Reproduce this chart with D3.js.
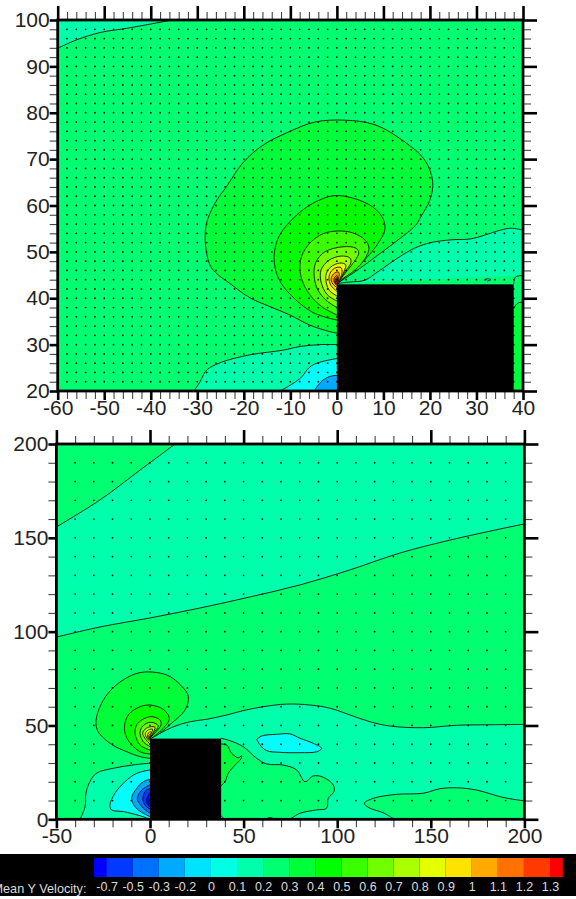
<!DOCTYPE html>
<html>
<head>
<meta charset="utf-8">
<script src="https://cdn.jsdelivr.net/npm/d3@7/dist/d3.min.js"></script>
<style>
  html, body { margin: 0; background: #fff; }
  svg { display: block; }
  text { font-family: "Liberation Sans", Arial, sans-serif; }
</style>
</head>
<body>
<div id="chart"></div>
<script>
// legend
const legendLabels = ["-0.7", "-0.5", "-0.3", "-0.2", "0", "0.1", "0.2", "0.3", "0.4", "0.5", "0.6", "0.7", "0.8", "0.9", "1", "1.1", "1.2", "1.3"];
const levelColors = ["#0000ff", "#0039ff", "#0071ff", "#00aaff", "#00e3ff", "#00ffe3", "#00ffaa", "#00ff71", "#00ff39", "#00ff00", "#39ff00", "#71ff00", "#aaff00", "#e3ff00", "#ffe300", "#ffaa00", "#ff7100", "#ff3900", "#ff0000"];
// the 0 to 0.1 band reads purer in the field than in the bar
const cyanFill = "#00fff8";

// measurement grids
const topGridX = [-58, -56, -54, -52, -50, -48, -46, -44, -42, -40, -38, -36, -34, -32, -30, -28, -26, -24, -22, -20, -18, -16, -14, -12, -10, -8, -6, -4, -2, 0, 2, 4, 6, 8, 10, 12, 14, 16, 18, 20, 22, 24, 26, 28, 30, 32, 34, 36, 38];
const topGridY = [22, 24, 26, 28, 30, 32, 34, 36, 38, 40, 42, 44, 46, 48, 50, 52, 54, 56, 58, 60, 62, 64, 66, 68, 70, 72, 74, 76, 78, 80, 82, 84, 86, 88, 90, 92, 94, 96, 98];
const botGridX = [-40, -30, -20, -10, 0, 10, 20, 30, 40, 50, 60, 70, 80, 90, 100, 110, 120, 130, 140, 150, 160, 170, 180, 190];
const botGridY = [10, 20, 30, 40, 50, 60, 70, 80, 90, 100, 110, 120, 130, 140, 150, 160, 170, 180, 190];

// top panel contours, x/y in data units
const topCorner = [[-60, 93.9], [-56, 95.7], [-50.9, 97.3], [-45.2, 98.2], [-40.2, 99.1], [-35.5, 100]];
const topFloor1 = [[-30.7, 20], [-29.4, 22], [-28, 24.5], [-24.8, 26.2], [-18.7, 27.8], [-11.6, 28.8], [-7.9, 29.6], [-3.7, 30], [0, 30]];
const topFloor2 = [[-12.2, 20], [-7.9, 22.7], [-5.8, 25.2], [-3.7, 26.2], [0, 27]];
const topFloor3 = [[-4.9, 20], [-3.4, 22], [-1.6, 23.1], [0, 23.4]];
const topWake = [[0.2, 43.2], [2.8, 43.5], [6, 43.9], [8.8, 45.7], [13.1, 48.7], [16.7, 50.8], [20.2, 52], [24.5, 52.6], [28.8, 52.8], [31.7, 53.6], [35.2, 54.7], [37.4, 55.1], [40, 54.7]];
const topWakeEdge = [[38, 43], [38.4, 44.6], [40, 44.9]];
const topSpeck = [[31.6, 43.9], [32.3, 44.2], [33.1, 44], [32.3, 43.7]];
const topStrip = [[38, 37.8], [38.5, 38.6], [39, 39], [40, 39.2]];
const topBlob1 = [[0, 32.5], [-1.5, 32.8], [-5.8, 34.2], [-10.1, 36.4], [-14.4, 38.2], [-18.7, 40.1], [-22.6, 42.9], [-26.9, 46.5], [-28.1, 50.4], [-28.1, 55.8], [-26.2, 60.5], [-23.7, 64.1], [-20.2, 69.2], [-15.9, 73], [-10.5, 75.8], [-4.7, 78], [1.7, 78.4], [8.2, 77.4], [14.6, 73.7], [18.9, 69.8], [20.6, 65.1], [20, 61.2], [18, 57.5], [17, 55.8], [13.7, 53], [8.8, 49.3], [3.9, 45.7], [0.2, 43.3]];
const topBlob2 = [[0, 35.3], [-5.1, 36.9], [-10.1, 40.9], [-12.6, 44.4], [-13.5, 48.7], [-12.6, 53], [-10.1, 56.5], [-5.8, 60.1], [-0.8, 62.1], [3.4, 61.6], [7.7, 59.7], [9.9, 57.2], [10.3, 54.7], [8.9, 51.9], [5.6, 47.9], [2.8, 45.5], [0.3, 43.2]];
const topBlob3 = [[0, 36.4], [-3, 38], [-5.2, 40], [-6.9, 42.5], [-7.9, 45.7], [-7.6, 49], [-5.8, 51.9], [-3, 53.9], [0.2, 54.5], [3.4, 54.1], [6, 52.6], [6.9, 50.8], [5.6, 47.9], [3.4, 45.7], [1, 44], [0.1, 43]];
const topBlob4 = [[0, 38], [-2.1, 39.4], [-4.1, 41.8], [-4.9, 45], [-4.5, 47.8], [-2.6, 50], [1.3, 51.1], [4.1, 50.8], [4.7, 49.8], [3.2, 47.2], [1.3, 44.8], [0.1, 43]];
const topBlob5 = [[0, 39.4], [-2.1, 40.8], [-3.4, 43.5], [-3.4, 46.1], [-1.7, 48.2], [0.9, 49.1], [2.8, 48.7], [3, 47.6], [1.7, 45.7], [0.1, 43]];
const topBlob6 = [[0, 40.5], [-1.7, 41.8], [-2.4, 44.4], [-1.9, 46.1], [-0.6, 47.2], [0.9, 47.6], [1.9, 47.2], [1.5, 45.7], [0.1, 43]];
const topBlob7 = [[0, 41.5], [-1.3, 42.8], [-1.7, 44.4], [-1.3, 45.7], [-0.2, 46.6], [0.9, 46.6], [1.1, 45.5], [0.1, 43]];
const topBlob8 = [[0, 42.3], [-1.1, 43.4], [-1.1, 44.7], [-0.2, 45.6], [0.4, 45.6], [0.4, 44.3], [0.1, 43]];
const topBlob9 = [[0, 42.7], [-0.6, 43.6], [-0.6, 44.3], [0, 44.9], [0.2, 44.5], [0.1, 43]];
const topBlob10 = [[0, 43], [-0.4, 43.6], [-0.3, 44.2], [0.1, 44.4], [0.1, 43]];
const topBlob11 = [[0, 43], [-0.25, 43.4], [-0.1, 43.8], [0.1, 43.6], [0.1, 43]];

// bottom panel contours
const botCorner = [[-50, 155.8], [-26.7, 170.2], [-5.3, 186.1], [13.4, 200]];
const botMiddle = [[-50, 97.1], [-26.7, 102.5], [0, 107.3], [26.7, 112.6], [53.4, 118.5], [80.1, 124.9], [106.8, 132.9], [133.5, 141.9], [160.3, 148.8], [187, 154.7], [200, 157.4]];
const botWakeUpper = [[0, 43.2], [5.3, 45.8], [12.4, 49.3], [21.4, 52], [30.3, 53.3], [41, 55.6], [49.7, 57.9], [60.4, 60], [73, 61.4], [85.5, 60.9], [96.2, 59.2], [106.8, 55.6], [117.5, 52], [128.2, 49.7], [146, 48.8], [163.8, 50.1], [183.4, 50.4], [200, 50.6]];
const botWakeRight = [[200, 9.8], [188.5, 11.7], [174.4, 15.6], [163.8, 16.8], [154.9, 16.3], [146, 13.9], [131.8, 13.3], [119.3, 11.2], [114.5, 8.5], [117.5, 5.9], [124.6, 3.5], [130.5, 0]];
const botWakeLeft = [[74.8, 0], [80.1, 3.2], [89, 5], [94.4, 5.9], [95.2, 11.2], [98.3, 14.7], [97.9, 18.3], [92.6, 22.4], [87.2, 23.1], [82.8, 20], [78.4, 26.3], [71.2, 28.9], [62.3, 29.5], [57, 32.5], [49.8, 38.7], [42.7, 41.9], [38, 43.2]];
const botIsland = [[57, 42.6], [59.7, 44.4], [67.7, 45.3], [74.8, 45.5], [80.1, 43.2], [87.2, 40.5], [91.7, 37.8], [89, 36], [80.1, 35.5], [69.4, 35.7], [62.3, 36.6], [58.8, 39.6], [57, 42.6]];
const botPatch = [[37.9, 40.1], [41, 39.6], [43.6, 35.2], [47.2, 32.8], [49, 33.9], [48.5, 32.1], [45.4, 28.9], [41.8, 24.5], [40.1, 20], [37.9, 17.9]];
const botBump1 = [[61.4, 0], [64.1, 0.9], [66.8, 0]];
const botBump2 = [[37.9, 1.8], [39, 0.9], [39, 0]];
const botFloor1 = [[-37.4, 0], [-34.7, 6.7], [-34.2, 13.9], [-32.1, 20.1], [-28.5, 24.6], [-19.6, 27.2], [-8.9, 29], [0, 29.9]];
const botFloor2 = [[0, 26.3], [-7.1, 24.5], [-13.4, 20], [-18.7, 13.9], [-21.4, 7.6], [-20.5, 5], [-14.3, 4.1], [-5.3, 1.9], [0, 0]];
const botFloor3 = [[0, 21.3], [-3.6, 20], [-7.1, 16.5], [-9.8, 11.2], [-8, 6.7], [-4.4, 3.7], [0, 1.4]];
const botFloor4 = [[0, 18.3], [-4.4, 15.6], [-6.8, 11.2], [-5.7, 8.5], [-3.6, 5.9], [0, 3.2]];
const botFloor5 = [[0, 16.5], [-2.7, 14.7], [-3.9, 11.2], [-2.7, 7.6], [0, 5.3]];
const botFloor6 = [[0, 14.2], [-0.9, 13], [-1.8, 10.3], [-1.4, 8.2], [0, 6.7]];
const botBlob1 = [[0, 32.5], [-5.3, 33.4], [-12.4, 36], [-21.4, 40.5], [-28.2, 47.7], [-28.5, 54.7], [-23.1, 66.3], [-14.3, 74.3], [-5.3, 78.2], [3.6, 78.2], [10.7, 76.1], [17.8, 70], [20.5, 65.5], [18.7, 58.2], [10.7, 50.5], [3.6, 44.7], [0, 43.2]];
const botBlob2 = [[0, 34.8], [-5.3, 36], [-11.8, 42.3], [-13.7, 48.5], [-11.6, 55.6], [-5.3, 60], [0, 60.9], [7.1, 58.6], [10.3, 53.8], [7.1, 48.5], [0, 42.6]];
const botBlob3 = [[0, 36.9], [-5.3, 39.6], [-8, 45.8], [-7.1, 50.3], [-3.6, 53.4], [0.9, 54.7], [5.3, 53], [5.9, 50.3], [2.7, 46.2], [0, 43.2]];
const botBlob4 = [[0, 38.7], [-3.6, 41.4], [-5.3, 45.8], [-4.4, 49], [-0.9, 51.5], [2.7, 51.2], [4.4, 49.7], [1.8, 45.8], [0, 43.2]];
const botBlob5 = [[0, 40.1], [-2.7, 43.2], [-3.9, 45.8], [-2.7, 48], [0, 49.3], [2.7, 49], [1.4, 45.8], [0, 43.2]];
const botBlob6 = [[0, 41.4], [-2.1, 44], [-2.5, 45.8], [-0.9, 47.6], [1.4, 48], [0.5, 45.5], [0, 43.2]];
const botBlob7 = [[0, 42], [-1.4, 44.3], [-0.9, 46], [0.5, 46.6], [0.2, 44.5], [0, 43.2]];
const botBlob8 = [[0, 42.5], [-0.7, 44], [-0.3, 45.2], [0.3, 45], [0, 43.2]];
const botBlob9 = [[0, 43], [-0.3, 43.7], [0, 44.3], [0.2, 43.7], [0, 43]];

// the obstacle, x0 x1 y0 y1
const block = [0, 38, 0, 43];

// level: index in levelColors. lines: stroked pieces. fill: corners only used to close the fill
const topLayers = [
  { level: 6, lines: [topFloor1], fill: [[0, 20]] },
  { color: cyanFill, lines: [topFloor2], fill: [[0, 20]] },
  { level: 3, lines: [topFloor3], fill: [[0, 20]] },
  { level: 6, lines: [topWake], fill: [[40, 44.9]] },
  { level: 7, lines: [topWakeEdge], fill: [[40, 20], [38, 20]] },
  { level: 8, lines: [topStrip], fill: [[40, 20], [38, 20]] },
  { level: 6, lines: [topCorner], fill: [[-60, 100]] },
  { color: cyanFill, lines: [topSpeck], fill: [] },
  { level: 8, lines: [topBlob1], fill: [] },
  { level: 9, lines: [topBlob2], fill: [] },
  { level: 10, lines: [topBlob3], fill: [] },
  { level: 11, lines: [topBlob4], fill: [] },
  { level: 12, lines: [topBlob5], fill: [] },
  { level: 13, lines: [topBlob6], fill: [] },
  { level: 14, lines: [topBlob7], fill: [] },
  { level: 15, lines: [topBlob8], fill: [] },
  { level: 16, lines: [topBlob9], fill: [] },
  { level: 17, lines: [topBlob10], fill: [] },
  { level: 18, lines: [topBlob11], fill: [] }
];

const botLayers = [
  { level: 7, lines: [botMiddle], fill: [[200, 0], [-50, 0]] },
  { level: 7, lines: [botCorner], fill: [[-50, 200]] },
  { level: 6, lines: [botWakeUpper, botWakeRight, botWakeLeft], fill: [] },
  { level: 6, lines: [botBump1], fill: [] },
  { level: 6, lines: [botBump2], fill: [] },
  { color: cyanFill, lines: [botIsland], fill: [] },
  { level: 8, lines: [botPatch], fill: [] },
  { level: 6, lines: [botFloor1], fill: [[0, 0]] },
  { color: cyanFill, lines: [botFloor2], fill: [] },
  { level: 3, lines: [botFloor3], fill: [] },
  { level: 2, lines: [botFloor4], fill: [] },
  { level: 1, lines: [botFloor5], fill: [] },
  { level: 0, lines: [botFloor6], fill: [] },
  { level: 8, lines: [botBlob1], fill: [] },
  { level: 9, lines: [botBlob2], fill: [] },
  { level: 10, lines: [botBlob3], fill: [] },
  { level: 11, lines: [botBlob4], fill: [] },
  { level: 12, lines: [botBlob5], fill: [] },
  { level: 13, lines: [botBlob6], fill: [] },
  { level: 14, lines: [botBlob7], fill: [] },
  { level: 15, lines: [botBlob8], fill: [] },
  { level: 17, lines: [botBlob9], fill: [] }
];

const topTicks = {
  xMajor: [-60, -50, -40, -30, -20, -10, 0, 10, 20, 30, 40],
  xMinor: [-58, -56, -54, -52, -48, -46, -44, -42, -38, -36, -34, -32, -28, -26, -24, -22, -18, -16, -14, -12, -8, -6, -4, -2, 2, 4, 6, 8, 12, 14, 16, 18, 22, 24, 26, 28, 32, 34, 36, 38],
  yMajor: [20, 30, 40, 50, 60, 70, 80, 90, 100],
  yMinor: [22, 24, 26, 28, 32, 34, 36, 38, 42, 44, 46, 48, 52, 54, 56, 58, 62, 64, 66, 68, 72, 74, 76, 78, 82, 84, 86, 88, 92, 94, 96, 98]
};
const botTicks = {
  xMajor: [-50, 0, 50, 100, 150, 200],
  xMinor: [-40, -30, -20, -10, 10, 20, 30, 40, 60, 70, 80, 90, 110, 120, 130, 140, 160, 170, 180, 190],
  yMajor: [0, 50, 100, 150, 200],
  yMinor: [10, 20, 30, 40, 60, 70, 80, 90, 110, 120, 130, 140, 160, 170, 180, 190]
};

const width = 576, height = 899;

const svg = d3.select("#chart").append("svg")
  .attr("width", width)
  .attr("height", height);

function drawPanel(name, xScale, yScale, layers, gridX, gridY, ticks) {
  const [x0, x1] = xScale.range();
  const [y1, y0] = yScale.range();
  const g = svg.append("g").attr("class", name);

  g.append("clipPath").attr("id", name + "-clip")
    .append("rect")
    .attr("x", x0).attr("y", y0)
    .attr("width", x1 - x0).attr("height", y1 - y0);

  const plot = g.append("g").attr("clip-path", `url(#${name}-clip)`);

  const line = d3.line()
    .x(d => xScale(d[0]))
    .y(d => yScale(d[1]))
    .curve(d3.curveCatmullRom.alpha(0.5));

  plot.append("rect")
    .attr("x", x0).attr("y", y0)
    .attr("width", x1 - x0).attr("height", y1 - y0)
    .attr("fill", levelColors[name == "top" ? 7 : 6]);

  layers.forEach(layer => {
    // fill runs through all pieces then the closing corners
    let d = layer.lines.map((pts, i) => {
      const piece = line(pts);
      return i == 0 ? piece : "L" + piece.slice(1);
    }).join("");
    layer.fill.forEach(p => {
      d += "L" + xScale(p[0]) + "," + yScale(p[1]);
    });
    plot.append("path")
      .attr("d", d + "Z")
      .attr("fill", layer.color || levelColors[layer.level]);
    layer.lines.forEach(pts => {
      plot.append("path")
        .attr("d", line(pts))
        .attr("fill", "none")
        .attr("stroke", "#111")
        .attr("stroke-width", 0.9);
    });
  });

  // measurement points
  const dots = d3.cross(gridX, gridY);
  plot.append("g").selectAll("circle")
    .data(dots)
    .enter()
    .append("circle")
    .attr("cx", d => xScale(d[0]))
    .attr("cy", d => yScale(d[1]))
    .attr("r", 0.9)
    .attr("fill", "#111");

  plot.append("rect")
    .attr("x", xScale(block[0]))
    .attr("y", yScale(block[3]))
    .attr("width", xScale(block[1]) - xScale(block[0]))
    .attr("height", yScale(block[2]) - yScale(block[3]))
    .attr("fill", "#000");

  // left / bottom ticks are short, top / right ones are long
  [[d3.axisLeft, yScale, ticks.yMinor, 8, x0, 0],
   [d3.axisRight, yScale, ticks.yMinor, 8, x1, 0],
   [d3.axisTop, xScale, ticks.xMinor, 8, 0, y0],
   [d3.axisBottom, xScale, ticks.xMinor, 8, 0, y1]].forEach(t => {
    const a = g.append("g").attr("transform", `translate(${t[4]},${t[5]})`)
      .call(t[0](t[1]).tickValues(t[2]).tickSize(t[3]).tickFormat(""));
    a.select(".domain").remove();
    a.selectAll("line").attr("stroke", "#444").attr("stroke-width", 1.1);
  });

  [[d3.axisLeft, yScale, ticks.yMajor, 8, x0, 0, true],
   [d3.axisRight, yScale, ticks.yMajor, 14, x1, 0, false],
   [d3.axisTop, xScale, ticks.xMajor, 14, 0, y0, false],
   [d3.axisBottom, xScale, ticks.xMajor, 9, 0, y1, true]].forEach(t => {
    const axis = t[0](t[1]).tickValues(t[2]).tickSize(t[3]).tickPadding(0)
      .tickFormat(t[6] ? d => String(d) : "");
    const a = g.append("g").attr("transform", `translate(${t[4]},${t[5]})`).call(axis);
    a.select(".domain").remove();
    a.selectAll("line").attr("stroke", "#000").attr("stroke-width", 2.6);
    a.selectAll("text").attr("font-size", 21).attr("fill", "#222");
  });

  g.append("rect")
    .attr("x", x0).attr("y", y0)
    .attr("width", x1 - x0).attr("height", y1 - y0)
    .attr("fill", "none")
    .attr("stroke", "#000")
    .attr("stroke-width", 2.8);
}

const topX = d3.scaleLinear().domain([-60, 40]).range([57.7, 523]);
const topY = d3.scaleLinear().domain([20, 100]).range([391, 20]);
drawPanel("top", topX, topY, topLayers, topGridX, topGridY, topTicks);

const botX = d3.scaleLinear().domain([-50, 200]).range([56.4, 524.4]);
const botY = d3.scaleLinear().domain([0, 200]).range([819.3, 444]);
drawPanel("bot", botX, botY, botLayers, botGridX, botGridY, botTicks);

// colour bar along the foot of the page
const legend = svg.append("g").attr("class", "legend");

legend.append("rect")
  .attr("x", 0).attr("y", 854)
  .attr("width", width).attr("height", 42)
  .attr("fill", "#000");

const barX = d3.scalePoint().domain(legendLabels).range([106.6, 550]);
const step = barX.step();

legend.append("g").selectAll("rect")
  .data(levelColors)
  .enter()
  .append("rect")
  .attr("x", (d, i) => i == 0 ? barX(legendLabels[0]) - step * 0.48 : barX(legendLabels[i - 1]))
  .attr("width", (d, i) => (i == 0 || i == levelColors.length - 1) ? step * 0.49 : step)
  .attr("y", 858)
  .attr("height", 19)
  .attr("fill", d => d);

const barAxis = legend.append("g")
  .attr("transform", "translate(0,882)")
  .call(d3.axisBottom(barX).tickSize(0).tickPadding(0));
barAxis.select(".domain").remove();
barAxis.selectAll("text")
  .attr("font-size", 12.5)
  .attr("fill", "#ddd");

legend.append("text")
  .attr("x", 86.5)
  .attr("y", 893)
  .attr("text-anchor", "end")
  .attr("font-size", 12.7)
  .attr("fill", "#ddd")
  .text("Mean Y Velocity:");
</script>
</body>
</html>
